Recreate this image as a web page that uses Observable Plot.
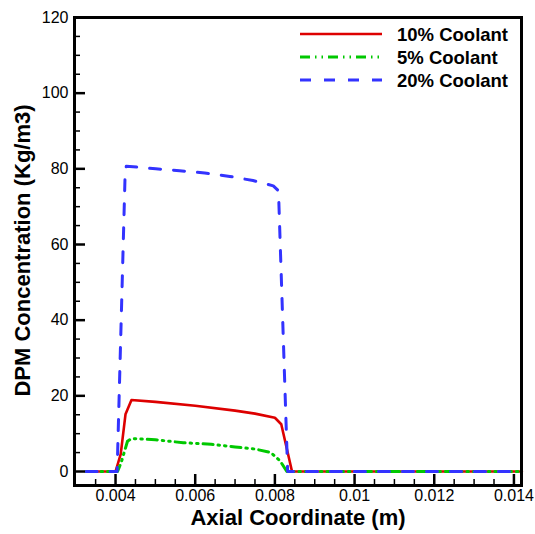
<!DOCTYPE html>
<html>
<head>
<meta charset="utf-8">
<script src="https://cdn.jsdelivr.net/npm/d3@7"></script>
<script src="https://cdn.jsdelivr.net/npm/@observablehq/plot@0.6"></script>
<style>
  html, body { margin: 0; padding: 0; background: #fff; }
  #chart svg { display: block; }
</style>
</head>
<body>
<div id="chart"></div>
<script>
// DPM concentration profiles along the axial coordinate, three coolant levels.

// 10% coolant
const x10 = [0.00326, 0.0040, 0.00413, 0.00425, 0.00440, 0.0050, 0.0060, 0.0070, 0.0075, 0.0080, 0.00816, 0.00843, 0.0142];
const c10 = [0, 0, 4.6, 15.1, 18.9, 18.4, 17.4, 16.1, 15.3, 14.2, 12.5, 0, 0];

// 5% coolant
const x05 = [0.00326, 0.00405, 0.00414, 0.0043, 0.0044, 0.0050, 0.0057, 0.0064, 0.0070, 0.0075, 0.0079, 0.00813, 0.0083, 0.0142];
const c05 = [0, 0, 2.3, 8.0, 8.7, 8.4, 7.6, 7.2, 6.5, 5.95, 5.0, 2.8, 0, 0];

// 20% coolant
const x20 = [0.00326, 0.00404, 0.00424, 0.00427, 0.00501, 0.00561, 0.00624, 0.00687, 0.00745, 0.00796, 0.00809, 0.00832, 0.0142];
const c20 = [0, 0, 78.5, 80.7, 80.0, 79.5, 78.9, 78.0, 76.9, 75.5, 74.2, 0, 0];

// Series names and styles, in drawing order
const seriesNames = ["10% Coolant", "5% Coolant", "20% Coolant"];
const seriesColors = ["#dd0000", "#00c800", "#3333ff"];
const seriesDash = [null, "10,5,1.5,5,1.5,5", "11,13"];
const seriesWidth = [2.6, 3, 3];

// Axis ticks
const xMajor = [0.004, 0.006, 0.008, 0.01, 0.012, 0.014];
const xMinor = d3.range(7, 29).map(i => i * 0.0005).filter(v => !xMajor.some(m => Math.abs(m - v) < 1e-9));
const yMajor = [0, 20, 40, 60, 80, 100, 120];
const yMinor = d3.range(1, 24).map(i => i * 5).filter(v => v % 20 !== 0);

const series = [
  {name: seriesNames[0], xs: x10, ys: c10},
  {name: seriesNames[1], xs: x05, ys: c05},
  {name: seriesNames[2], xs: x20, ys: c20}
];
const rows = series.flatMap((s, k) => s.xs.map((x, i) => ({series: s.name, k, x, c: s.ys[i]})));

const W = 535, H = 534;
const margin = {left: 74, right: 14, top: 17, bottom: 49};
const frameW = W - margin.left - margin.right;
const frameH = H - margin.top - margin.bottom;
const font = "'Liberation Sans', Arial, Helvetica, sans-serif";

// Legend drawn inside the plot frame, top right
function legend() {
  const g = d3.create("svg:g").attr("font-family", font);
  seriesNames.forEach((name, i) => {
    const y = 34 + i * 23;
    g.append("line")
      .attr("x1", 300).attr("x2", 382).attr("y1", y).attr("y2", y)
      .attr("stroke", seriesColors[i])
      .attr("stroke-width", seriesWidth[i])
      .attr("stroke-dasharray", seriesDash[i]);
    g.append("text")
      .attr("x", 397).attr("y", y + 6.5)
      .attr("text-anchor", "start")
      .attr("font-size", 18.5).attr("font-weight", "bold").attr("fill", "#000")
      .text(name);
  });
  return g.node();
}

const chart = Plot.plot({
  width: W,
  height: H,
  marginLeft: margin.left,
  marginRight: margin.right,
  marginTop: margin.top,
  marginBottom: margin.bottom,
  style: {fontFamily: font, background: "#fff", color: "#000"},
  x: {domain: [0.00297, 0.01419], axis: null},
  y: {domain: [-3.7, 120], axis: null},
  marks: [
    // curves
    ...series.map((s, k) => Plot.line(rows.filter(d => d.k === k), {
      x: "x", y: "c",
      stroke: seriesColors[k],
      strokeWidth: seriesWidth[k],
      strokeDasharray: seriesDash[k],
      strokeLinejoin: "round"
    })),
    // inward ticks
    Plot.tickX(xMajor, {x: d => d, insetTop: frameH - 11, stroke: "#000", strokeWidth: 2.5}),
    Plot.tickX(xMinor, {x: d => d, insetTop: frameH - 6, stroke: "#000", strokeWidth: 1.5}),
    Plot.tickY(yMajor, {y: d => d, insetRight: frameW - 11, stroke: "#000", strokeWidth: 2.5}),
    Plot.tickY(yMinor, {y: d => d, insetRight: frameW - 6, stroke: "#000", strokeWidth: 1.5}),
    // tick labels
    Plot.text(xMajor, {x: d => d, frameAnchor: "bottom", dy: 15, text: d => String(d), fontSize: 16, fill: "#000"}),
    Plot.text(yMajor, {y: d => d, frameAnchor: "left", dx: -6, textAnchor: "end", text: d => String(d), fontSize: 16, fill: "#000"}),
    // axis titles
    Plot.text(["Axial Coordinate (m)"], {frameAnchor: "bottom", dy: 39, text: d => d, fontSize: 22, fontWeight: "bold", fill: "#000"}),
    Plot.text(["DPM Concentration (Kg/m3)"], {frameAnchor: "left", dx: -52, dy: -1, rotate: -90, textAnchor: "middle", text: d => d, fontSize: 22, fontWeight: "bold", fill: "#000"}),
    Plot.frame({stroke: "#000", strokeWidth: 3}),
    legend
  ]
});

document.getElementById("chart").appendChild(chart);
</script>
</body>
</html>
